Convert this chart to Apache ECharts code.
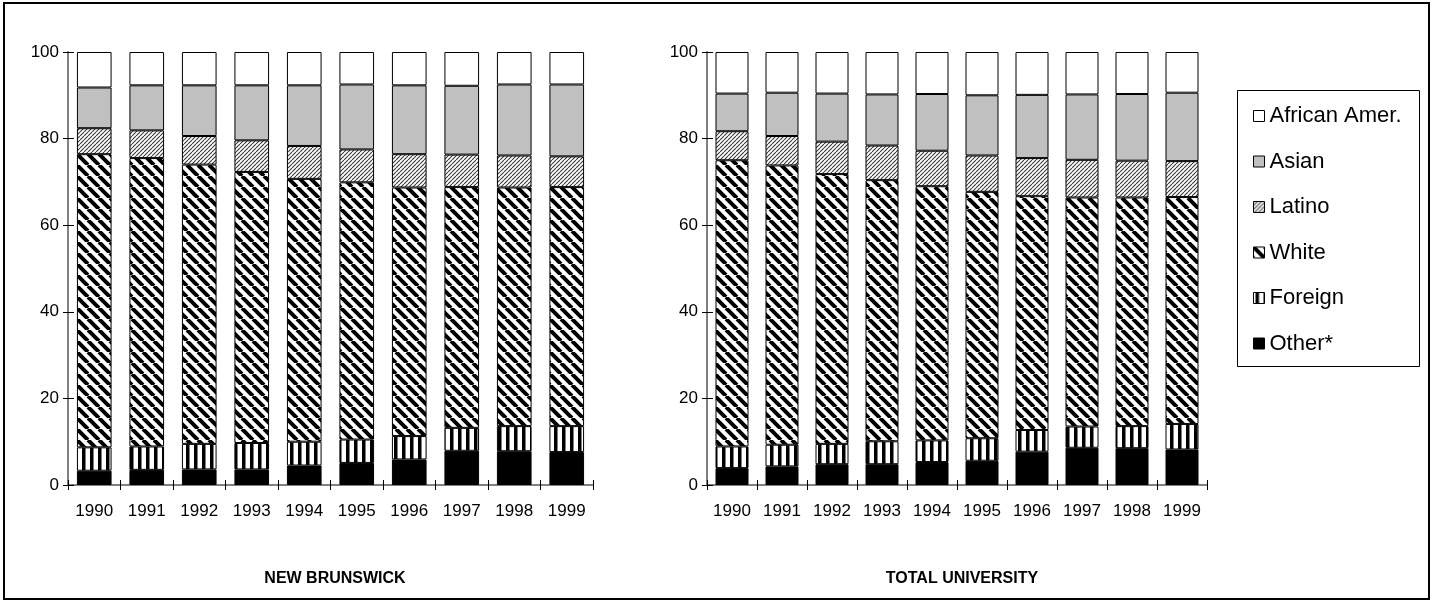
<!DOCTYPE html>
<html>
<head>
<meta charset="utf-8">
<script src="https://cdn.jsdelivr.net/npm/echarts@6/dist/echarts.min.js"></script>
<style>
html,body{margin:0;padding:0;background:#fff;}
#chart{width:1432px;height:602px;}
</style>
</head>
<body>
<div id="chart"></div>
<script>
// ---- Data (percent of enrollment) ----
const years = ['1990','1991','1992','1993','1994','1995','1996','1997','1998','1999'];
const yTicks = [0,20,40,60,80,100];
const legendNames = ['African Amer.','Asian','Latino','White','Foreign','Other*'];

// New Brunswick
const nbOther   = [3.3,3.5,3.6,3.6,4.5,5.1,5.9,7.9,7.8,7.6];
const nbForeign = [5.4,5.4,5.9,6.1,5.5,5.4,5.4,5.3,5.8,6.0];
const nbWhite   = [67.7,66.6,64.5,62.6,60.7,59.4,57.4,55.6,55.1,55.2];
const nbLatino  = [6.0,6.4,6.6,7.3,7.6,7.6,7.7,7.5,7.4,7.1];
const nbAsian   = [9.4,10.4,11.7,12.7,14.0,15.0,15.9,15.9,16.4,16.6];
const nbAfrican = [8.2,7.7,7.7,7.7,7.7,7.5,7.7,7.8,7.5,7.5];

// Total University
const tuOther   = [3.9,4.3,4.8,4.8,5.3,5.6,7.7,8.6,8.5,8.2];
const tuForeign = [5.0,5.0,4.7,5.3,5.0,5.2,5.0,4.9,5.1,5.9];
const tuWhite   = [66.1,64.5,62.3,60.3,58.7,56.9,54.0,52.9,52.8,52.4];
const tuLatino  = [6.7,6.8,7.5,8.0,8.2,8.4,8.8,8.7,8.5,8.3];
const tuAsian   = [8.7,10.0,11.1,11.8,13.1,13.9,14.6,15.1,15.4,15.8];
const tuAfrican = [9.6,9.4,9.6,9.8,9.7,10.0,9.9,9.8,9.7,9.4];

// ---- Patterns ----
function makePattern(w, h, draw) {
  const c = document.createElement('canvas');
  c.width = w; c.height = h;
  const ctx = c.getContext('2d');
  ctx.fillStyle = '#fff';
  ctx.fillRect(0, 0, w, h);
  draw(ctx, w, h);
  return { image: c, repeat: 'repeat' };
}
const whitePattern = makePattern(11, 11, (ctx, s) => {
  ctx.strokeStyle = '#000'; ctx.lineWidth = 4;
  ctx.beginPath();
  [-s, 0, s].forEach(k => { ctx.moveTo(k, 0); ctx.lineTo(k + s, s); });
  ctx.stroke();
});
const latinoPattern = makePattern(4, 4, (ctx, s) => {
  ctx.strokeStyle = '#3a3a3a'; ctx.lineWidth = 1.1;
  ctx.beginPath();
  [-s, 0, s].forEach(k => { ctx.moveTo(k, s); ctx.lineTo(k + s, 0); });
  ctx.stroke();
});
const foreignPattern = makePattern(8, 8, (ctx) => {
  ctx.fillStyle = '#000';
  ctx.fillRect(2, 0, 3.5, 8);
});

const styles = {
  'Other*':        { color: '#000000' },
  'Foreign':       { color: foreignPattern },
  'White':         { color: whitePattern },
  'Latino':        { color: latinoPattern },
  'Asian':         { color: '#c0c0c0' },
  'African Amer.': { color: '#ffffff' }
};

function buildSeries(stack, idx, sets) {
  return sets.map(([name, data]) => ({
    name: name,
    type: 'bar',
    stack: stack,
    xAxisIndex: idx,
    yAxisIndex: idx,
    data: data,
    barCategoryGap: '34%',
    itemStyle: { color: styles[name].color, borderColor: '#000', borderWidth: 1 },
    emphasis: { disabled: true },
    animation: false
  }));
}

const series = [].concat(
  buildSeries('nb', 0, [['Other*', nbOther], ['Foreign', nbForeign], ['White', nbWhite],
                        ['Latino', nbLatino], ['Asian', nbAsian], ['African Amer.', nbAfrican]]),
  buildSeries('tu', 1, [['Other*', tuOther], ['Foreign', tuForeign], ['White', tuWhite],
                        ['Latino', tuLatino], ['Asian', tuAsian], ['African Amer.', tuAfrican]])
);

const FONT = 'Liberation Sans, Arial, sans-serif';
const grids = [
  { left: 68, top: 52, width: 525, height: 433 },
  { left: 707, top: 52, width: 500, height: 433 }
];

function mainX(g) {
  return {
    type: 'category', gridIndex: g, data: years, position: 'bottom',
    axisLine: { lineStyle: { color: '#808080', width: 2 } },
    axisTick: { show: true, length: 5, lineStyle: { color: '#000', width: 1 } },
    axisLabel: { color: '#000', fontSize: 17, fontFamily: FONT, margin: 18 }
  };
}
function innerX(g) {
  return {
    type: 'category', gridIndex: g, data: years, position: 'bottom',
    axisLine: { show: false },
    axisTick: { show: true, inside: true, length: 5, lineStyle: { color: '#000', width: 1 } },
    axisLabel: { show: false }
  };
}
function mainY(g) {
  return {
    type: 'value', gridIndex: g, min: yTicks[0], max: yTicks[yTicks.length - 1], interval: 20,
    position: 'left',
    axisLine: { show: true, lineStyle: { color: '#808080', width: 2 } },
    axisTick: { show: true, length: 5, lineStyle: { color: '#000', width: 1 } },
    axisLabel: { color: '#000', fontSize: 17, fontFamily: FONT, margin: 9 },
    splitLine: { show: false }
  };
}
function innerY(g) {
  return {
    type: 'value', gridIndex: g, min: 0, max: 100, interval: 20, position: 'left', offset: 0,
    axisLine: { show: false },
    axisTick: { show: true, inside: true, length: 6, lineStyle: { color: '#000', width: 1 } },
    axisLabel: { show: false },
    splitLine: { show: false }
  };
}

const chart = echarts.init(document.getElementById('chart'), null, { renderer: 'canvas' });
chart.setOption({
  backgroundColor: '#fff',
  animation: false,
  title: [
    { text: 'NEW BRUNSWICK', left: 330, top: 566, textAlign: 'center',
      textStyle: { fontSize: 16, fontWeight: 'bold', color: '#000', fontFamily: FONT } },
    { text: 'TOTAL UNIVERSITY', left: 957, top: 566, textAlign: 'center',
      textStyle: { fontSize: 16, fontWeight: 'bold', color: '#000', fontFamily: FONT } }
  ],
  legend: {
    data: legendNames,
    orient: 'vertical',
    left: 1253, top: 105,
    padding: 0,
    itemWidth: 11, itemHeight: 11,
    itemGap: 23.5,
    icon: 'rect',
    selectedMode: false,
    itemStyle: { borderColor: '#000', borderWidth: 1 },
    textStyle: { fontSize: 22, color: '#000', fontFamily: FONT, padding: [0, 0, 0, 0] }
  },
  grid: grids,
  xAxis: [mainX(0), mainX(1), innerX(0), innerX(1)],
  yAxis: [mainY(0), mainY(1), innerY(0), innerY(1)],
  series: series,
  graphic: [
    { type: 'rect', shape: { x: 4, y: 3, width: 1425, height: 596 },
      style: { fill: 'none', stroke: '#000', lineWidth: 2 }, silent: true, z: 100 },
    { type: 'rect', shape: { x: 1237.5, y: 90.5, width: 182, height: 276 },
      style: { fill: 'none', stroke: '#000', lineWidth: 1 }, silent: true, z: 100 }
  ]
});
</script>
</body>
</html>
